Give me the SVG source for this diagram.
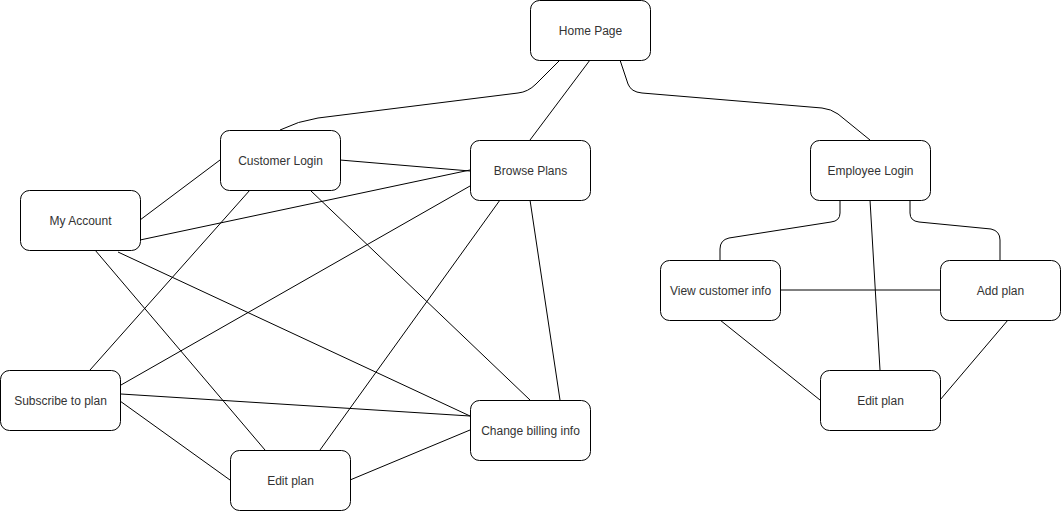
<svg xmlns="http://www.w3.org/2000/svg" width="1061" height="511" viewBox="0 0 1061 511">
  <style>
    .edge { fill: none; stroke: #000; stroke-width: 1; }
    .box { fill: #fff; stroke: #000; stroke-width: 1; }
    .label { font-family: "Liberation Sans", Arial, sans-serif; font-size: 12px; fill: #333; text-anchor: middle; dominant-baseline: central; }
  </style>
  <rect width="1061" height="511" fill="#fff"/>

  <g id="connectors">
    <!-- Home Page branches -->
    <path class="edge" d="M560,60 L536,84 Q528,92 518,93 L318,118 Q298,121 280,130"/>
    <path class="edge" d="M590,60 L530,140"/>
    <path class="edge" d="M620,60 L628,84 Q631,92 642,93 L822,108 Q831,109 838,114 L870,140"/>

    <!-- customer side -->
    <path class="edge" d="M220,160 L140,220"/>
    <path class="edge" d="M340,160 L470,171"/>
    <path class="edge" d="M140,240 L470,170"/>
    <path class="edge" d="M250,190 L90,370"/>
    <path class="edge" d="M310,190 L530,400"/>
    <path class="edge" d="M95,250 L265,450"/>
    <path class="edge" d="M118,252 L470,416"/>
    <path class="edge" d="M470,186 L121,385"/>
    <path class="edge" d="M500,200 L320,450"/>
    <path class="edge" d="M530,200 L560,400"/>
    <path class="edge" d="M121,394 L470,416"/>
    <path class="edge" d="M120,401 L230,480"/>
    <path class="edge" d="M350,480 L470,430"/>

    <!-- employee side -->
    <path class="edge" d="M840,200 L840,213 Q840,221 831,222 L729,238 Q720,240 720,249 L720,260"/>
    <path class="edge" d="M910,200 L910,213 Q910,221 919,222 L991,229 Q1000,231 1000,240 L1000,260"/>
    <path class="edge" d="M870,200 L880,370"/>
    <path class="edge" d="M780,290 L940,290"/>
    <path class="edge" d="M720,320 L820,400"/>
    <path class="edge" d="M1008,320 L940,400"/>
  </g>

  <g id="home-page">
    <rect class="box" x="530.5" y="0.5" width="120" height="60" rx="9"/>
    <text class="label" x="590.5" y="30.5">Home Page</text>
  </g>
  <g id="customer-login">
    <rect class="box" x="220.5" y="130.5" width="120" height="60" rx="9"/>
    <text class="label" x="280.5" y="160.5">Customer Login</text>
  </g>
  <g id="browse-plans">
    <rect class="box" x="470.5" y="140.5" width="120" height="60" rx="9"/>
    <text class="label" x="530.5" y="170.5">Browse Plans</text>
  </g>
  <g id="my-account">
    <rect class="box" x="20.5" y="190.5" width="120" height="60" rx="9"/>
    <text class="label" x="80.5" y="220.5">My Account</text>
  </g>
  <g id="subscribe-to-plan">
    <rect class="box" x="0.5" y="370.5" width="120" height="60" rx="9"/>
    <text class="label" x="60.5" y="400.5">Subscribe to plan</text>
  </g>
  <g id="edit-plan-customer">
    <rect class="box" x="230.5" y="450.5" width="120" height="60" rx="9"/>
    <text class="label" x="290.5" y="480.5">Edit plan</text>
  </g>
  <g id="change-billing-info">
    <rect class="box" x="470.5" y="400.5" width="120" height="60" rx="9"/>
    <text class="label" x="530.5" y="430.5">Change billing info</text>
  </g>
  <g id="employee-login">
    <rect class="box" x="810.5" y="140.5" width="120" height="60" rx="9"/>
    <text class="label" x="870.5" y="170.5">Employee Login</text>
  </g>
  <g id="view-customer-info">
    <rect class="box" x="660.5" y="260.5" width="120" height="60" rx="9"/>
    <text class="label" x="720.5" y="290.5">View customer info</text>
  </g>
  <g id="add-plan">
    <rect class="box" x="940.5" y="260.5" width="120" height="60" rx="9"/>
    <text class="label" x="1000.5" y="290.5">Add plan</text>
  </g>
  <g id="edit-plan-employee">
    <rect class="box" x="820.5" y="370.5" width="120" height="60" rx="9"/>
    <text class="label" x="880.5" y="400.5">Edit plan</text>
  </g>
</svg>
